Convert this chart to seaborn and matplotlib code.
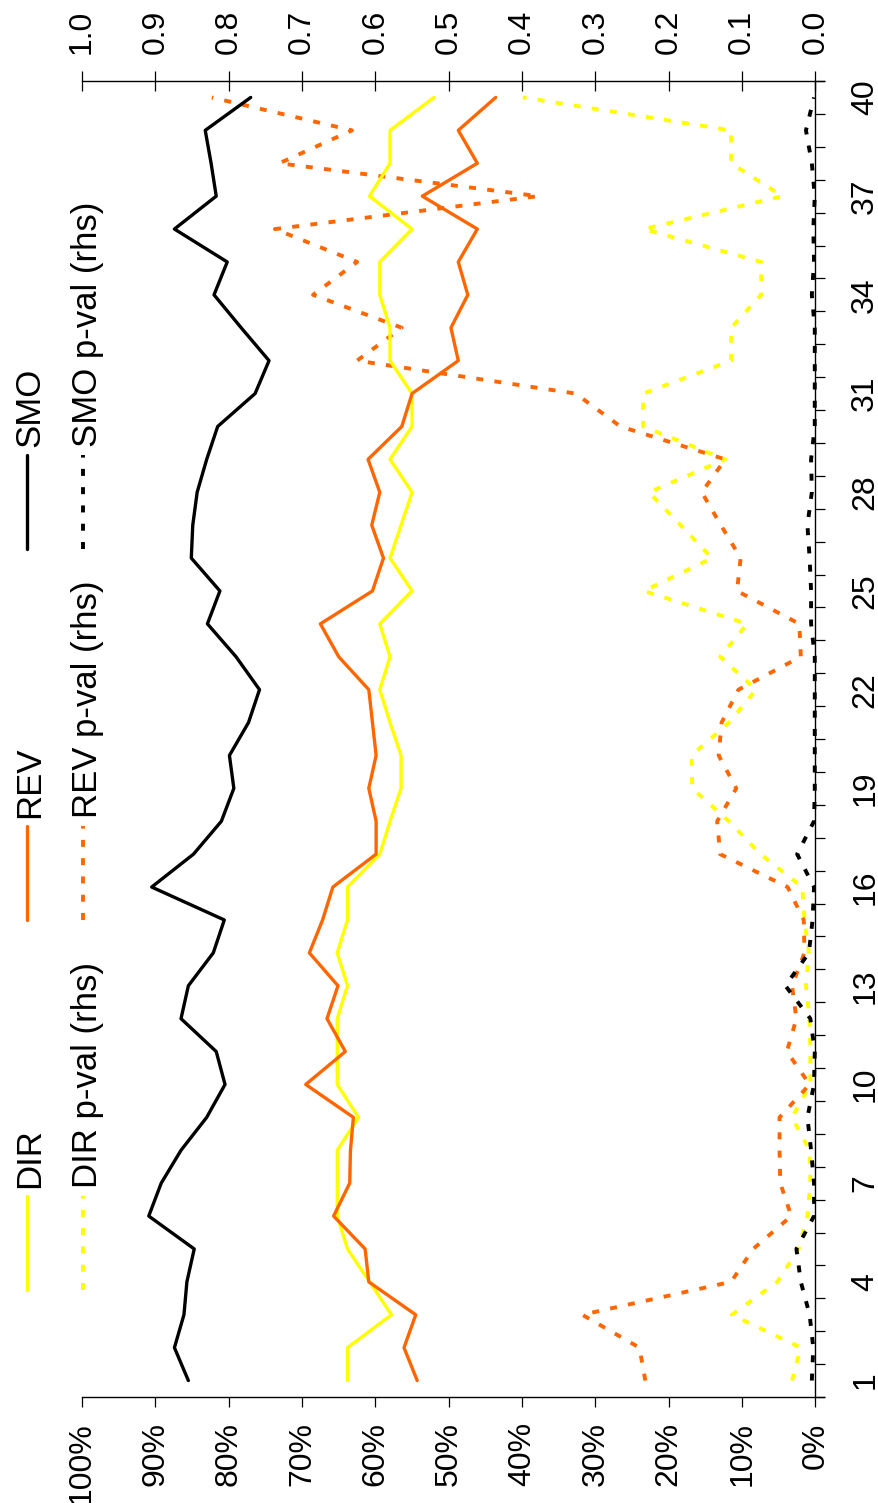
import matplotlib
matplotlib.use("Agg")
import matplotlib.pyplot as plt
import seaborn as sns
import pandas as pd
from matplotlib.lines import Line2D
from matplotlib.ticker import FixedLocator

# ---------------- data ----------------
categories = list(range(1, 41))

dir_vals = [0.638, 0.638, 0.578, 0.608, 0.638, 0.652, 0.652, 0.652, 0.623, 0.652,
            0.652, 0.652, 0.638, 0.652, 0.638, 0.638, 0.594, 0.580, 0.565, 0.565,
            0.580, 0.594, 0.580, 0.594, 0.550, 0.580, 0.565, 0.550, 0.580, 0.550,
            0.550, 0.580, 0.580, 0.594, 0.594, 0.550, 0.608, 0.580, 0.580, 0.520]

rev_vals = [0.543, 0.561, 0.545, 0.609, 0.614, 0.657, 0.635, 0.634, 0.630, 0.695,
            0.641, 0.666, 0.651, 0.690, 0.672, 0.658, 0.599, 0.599, 0.609, 0.599,
            0.604, 0.609, 0.650, 0.675, 0.604, 0.589, 0.605, 0.594, 0.610, 0.564,
            0.550, 0.487, 0.497, 0.474, 0.487, 0.461, 0.536, 0.461, 0.487, 0.436]

smo_vals = [0.855, 0.874, 0.861, 0.857, 0.847, 0.909, 0.892, 0.865, 0.830, 0.805,
            0.817, 0.865, 0.855, 0.821, 0.806, 0.905, 0.848, 0.810, 0.793, 0.799,
            0.773, 0.758, 0.790, 0.829, 0.812, 0.851, 0.849, 0.843, 0.830, 0.815,
            0.764, 0.745, 0.783, 0.820, 0.802, 0.874, 0.817, 0.824, 0.832, 0.770]

dir_pval = [0.032, 0.020, 0.114, 0.052, 0.023, 0.011, 0.007, 0.008, 0.032, 0.007,
            0.007, 0.008, 0.013, 0.009, 0.015, 0.018, 0.075, 0.118, 0.168, 0.169,
            0.118, 0.081, 0.130, 0.093, 0.234, 0.141, 0.184, 0.227, 0.123, 0.235,
            0.235, 0.115, 0.115, 0.074, 0.074, 0.234, 0.045, 0.115, 0.115, 0.399]

rev_pval = [0.232, 0.240, 0.318, 0.115, 0.085, 0.033, 0.048, 0.049, 0.049, 0.008,
            0.039, 0.026, 0.032, 0.015, 0.016, 0.038, 0.130, 0.134, 0.108, 0.132,
            0.128, 0.105, 0.020, 0.022, 0.107, 0.102, 0.129, 0.155, 0.123, 0.266,
            0.327, 0.625, 0.564, 0.685, 0.625, 0.737, 0.378, 0.731, 0.632, 0.823]

smo_pval = [0.005, 0.003, 0.008, 0.020, 0.026, 0.002, 0.002, 0.006, 0.011, 0.002,
            0.001, 0.007, 0.041, 0.009, 0.004, 0.002, 0.025, 0.002, 0.001, 0.001,
            0.001, 0.001, 0.001, 0.006, 0.006, 0.008, 0.011, 0.005, 0.006, 0.001,
            0.001, 0.001, 0.001, 0.005, 0.002, 0.003, 0.001, 0.005, 0.013, 0.002]

value_ticks = [0.0, 0.1, 0.2, 0.3, 0.4, 0.5, 0.6, 0.7, 0.8, 0.9, 1.0]
pct_labels = ["0%", "10%", "20%", "30%", "40%", "50%", "60%", "70%", "80%", "90%", "100%"]
pval_labels = ["0.0", "0.1", "0.2", "0.3", "0.4", "0.5", "0.6", "0.7", "0.8", "0.9", "1.0"]
cat_ticks = [1, 4, 7, 10, 13, 16, 19, 22, 25, 28, 31, 34, 37, 40]
cat_labels = [str(c) for c in cat_ticks]

series_names = ["DIR", "REV", "SMO"]
pval_names = ["DIR p-val (rhs)", "REV p-val (rhs)", "SMO p-val (rhs)"]

# ---------------- style ----------------
sns.set_theme(style="white")
plt.rcParams["font.family"] = ["Liberation Sans", "DejaVu Sans"]
plt.rcParams["text.color"] = "black"
plt.rcParams["xtick.color"] = "black"
plt.rcParams["ytick.color"] = "black"
plt.rcParams["xtick.labelcolor"] = "black"
plt.rcParams["ytick.labelcolor"] = "black"

YELLOW = "#FFFF00"
ORANGE = "#FF6600"
BLACK = "#000000"
colors = [YELLOW, ORANGE, BLACK]
SOLID_LW = 2.4
DOT_LW = 2.8
DOT_STYLE = (0, (1.8, 2.9))
TICK_FS = 23
LEG_FS = 25

W, H = 879, 1503
fig = plt.figure(figsize=(W / 100, H / 100), dpi=100)
fig.patch.set_facecolor("white")
L, R, B, T = 82 / W, 824 / W, 1 - 1397 / H, 1 - 81 / H
ax = fig.add_axes([L, B, R - L, T - B])
ax2 = ax.twiny()

df = pd.DataFrame({"cat": categories,
                   "DIR": dir_vals, "REV": rev_vals, "SMO": smo_vals,
                   "DIRp": dir_pval, "REVp": rev_pval, "SMOp": smo_pval})

# p-values on the secondary (top) axis
for col, c in zip(["DIRp", "REVp", "SMOp"], colors):
    sns.lineplot(data=df, x=col, y="cat", orient="y", sort=False, ax=ax2,
                 color=c, lw=DOT_LW, linestyle=DOT_STYLE, legend=False)
# main series on primary (bottom) axis
for col, c in zip(["DIR", "REV", "SMO"], colors):
    sns.lineplot(data=df, x=col, y="cat", orient="y", sort=False, ax=ax,
                 color=c, lw=SOLID_LW, legend=False)

ax.set_zorder(ax2.get_zorder() + 1)
ax.patch.set_visible(False)

xlim = (1.0, -0.0116)
for a in (ax, ax2):
    a.set_xlim(*xlim)
    a.set_xlabel("")
    a.set_ylabel("")
    a.grid(False)
ax.set_ylim(0.5, 40.5)

# spines
for s in ("top", "left"):
    ax.spines[s].set_visible(False)
ax.spines["right"].set_position(("data", 0))
for s in ("left", "right", "bottom"):
    ax2.spines[s].set_visible(False)
for a in (ax, ax2):
    for s in a.spines.values():
        s.set_color("black")
        s.set_linewidth(1.0)

# bottom (percent) axis
ax.set_xticks(value_ticks)
ax.set_xticklabels(pct_labels, rotation=90, fontsize=TICK_FS, color="black")
ax.tick_params(axis="x", which="major", direction="out", length=7.2, width=0.9,
               color="black", labelcolor="black", bottom=True, pad=11)

# top (p-value) axis
ax2.set_xticks(value_ticks)
ax2.set_xticklabels(pval_labels, rotation=90, fontsize=TICK_FS, color="black")
ax2.tick_params(axis="x", which="major", direction="inout", length=14.4, width=0.9,
                color="black", labelcolor="black", top=True, pad=12)

# category axis on the right at value 0
ax.yaxis.set_ticks_position("right")
ax.set_yticks(cat_ticks)
ax.set_yticklabels(cat_labels, rotation=90, va="center", fontsize=TICK_FS, color="black")
ax.yaxis.set_minor_locator(FixedLocator([c - 0.5 for c in categories] + [categories[-1] + 0.5]))
ax.tick_params(axis="y", which="major", length=0, pad=25, right=True, left=False,
               labelcolor="black")
ax.tick_params(axis="y", which="minor", direction="out", length=7.2, width=0.9,
               color="black", right=True, left=False)
ax2.tick_params(axis="y", left=False, right=False, labelleft=False, labelright=False)

# ---------------- legend (rotated, drawn in figure pixels) ----------------
def fx(px):
    return px / W

def fy(py):
    return 1 - py / H

leg_y0 = [1290, 920, 549]      # bottom end of each legend key
key_len = 94
text_gap = 102
for i in range(3):
    y0 = leg_y0[i]
    fig.add_artist(Line2D([fx(27), fx(27)], [fy(y0), fy(y0 - key_len)],
                          color=colors[i], lw=SOLID_LW))
    fig.text(fx(39), fy(y0 - text_gap), series_names[i], rotation=90,
             rotation_mode="anchor", ha="left", va="baseline", fontsize=LEG_FS,
             color="black")
    fig.add_artist(Line2D([fx(83), fx(83)], [fy(y0), fy(y0 - key_len)],
                          color=colors[i], lw=DOT_LW, linestyle=DOT_STYLE))
    fig.text(fx(97), fy(y0 - text_gap), pval_names[i], rotation=90,
             rotation_mode="anchor", ha="left", va="baseline", fontsize=LEG_FS,
             color="black")

fig.savefig("out.png", dpi=100, facecolor="white")
